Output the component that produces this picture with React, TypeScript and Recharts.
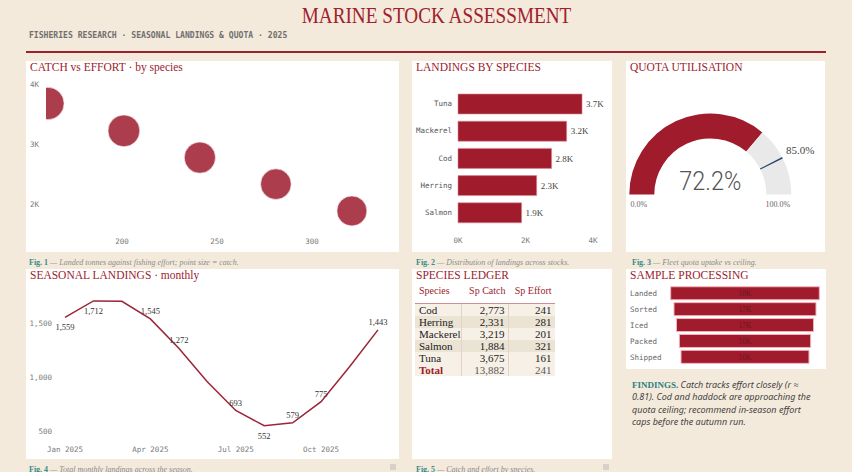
import React from 'react';
import {
  ScatterChart, Scatter, XAxis, YAxis, ZAxis,
  BarChart, Bar, LabelList, Cell,
  PieChart, Pie, LineChart, Line,
} from 'recharts';

// ---- data ----
const SPECIES = ['Cod', 'Herring', 'Mackerel', 'Salmon', 'Tuna'];
const SPECIES_CATCH = [2773, 2331, 3219, 1884, 3675];
const SPECIES_EFFORT = [241, 281, 201, 321, 161];

const MONTHS = ['Jan 2025', 'Feb 2025', 'Mar 2025', 'Apr 2025', 'May 2025', 'Jun 2025',
  'Jul 2025', 'Aug 2025', 'Sep 2025', 'Oct 2025', 'Nov 2025', 'Dec 2025'];
const MONTHLY_LANDINGS = [1559, 1712, 1709, 1545, 1272, 960, 693, 552, 579, 775, 1100, 1443];

const QUOTA_USED = 72.2;
const QUOTA_CEILING = 85.0;

const STAGES = ['Landed', 'Sorted', 'Iced', 'Packed', 'Shipped'];
const STAGE_COUNTS = [18000, 17200, 16600, 15900, 15500];

const SCATTER_X_TICKS = [200, 250, 300];
const SCATTER_Y_TICKS = [2000, 3000, 4000];
const BAR_TICKS = [0, 2000, 4000];
const LINE_Y_TICKS = [500, 1000, 1500];

// label placement for the monthly line (above / below / hidden)
const LINE_LABEL_PLACE = ['below', 'below', 'none', 'above', 'above', 'none',
  'above', 'below', 'above', 'above', 'none', 'above'];

// ---- styling ----
const BG = '#f4eadb';
const RED = '#a01b2c';
const TITLE_RED = '#9b1c2e';
const LINE_RED = '#9c2436';
const NAVY = '#2c4a6e';
const TEAL = '#3a8a8a';
const SERIF = '"Liberation Serif", "DejaVu Serif", serif';
const MONO = '"DejaVu Sans Mono", "Liberation Mono", monospace';
const SANS = '"Noto Sans", "Open Sans", sans-serif';

const tickStyle = { fontSize: 7.5, fontFamily: MONO, fill: '#7a7a7a' };
const kFmt = (v: number) => `${v / 1000}K`;
const num = (v: number) => v.toLocaleString('en-US');

const scatterData = SPECIES.map((s, i) => ({ species: s, effort: SPECIES_EFFORT[i], catch: SPECIES_CATCH[i] }));
const barData = SPECIES.map((s, i) => ({ species: s, catch: SPECIES_CATCH[i] }))
  .sort((a, b) => b.catch - a.catch);
const lineData = MONTHS.map((m, i) => ({ month: m, landings: MONTHLY_LANDINGS[i] }));
const gaugeData = [{ v: QUOTA_USED }, { v: 100 - QUOTA_USED }];
const markerData = [{ v: QUOTA_CEILING - 0.3 }, { v: 0.6 }, { v: 100 - QUOTA_CEILING - 0.3 }];
const stageMax = Math.max(...STAGE_COUNTS);
const funnelData = STAGES.map((s, i) => ({ stage: s, pad: (stageMax - STAGE_COUNTS[i]) / 2, count: STAGE_COUNTS[i] }));
const totalCatch = SPECIES_CATCH.reduce((a, b) => a + b, 0);
const meanEffort = Math.round(SPECIES_EFFORT.reduce((a, b) => a + b, 0) / SPECIES_EFFORT.length);

type PanelProps = { x: number; y: number; w: number; h: number; title: string; children?: React.ReactNode };
const Panel = ({ x, y, w, h, title, children }: PanelProps) => (
  <div style={{ position: 'absolute', left: x, top: y, width: w, height: h, background: '#fff' }}>
    {children}
    <div style={{ position: 'absolute', left: 4, top: 0, fontFamily: SERIF, fontSize: 11.5, lineHeight: '12px', color: TITLE_RED, whiteSpace: 'nowrap' }}>{title}</div>
  </div>
);

const Caption = ({ x, y, n, text }: { x: number; y: number; n: number; text: string }) => (
  <div style={{ position: 'absolute', left: x, top: y, fontFamily: SERIF, fontSize: 8, lineHeight: '12px', whiteSpace: 'nowrap' }}>
    <span style={{ color: TEAL, fontWeight: 700 }}>Fig. {n}</span>
    <span style={{ color: '#8a8a8a', fontStyle: 'italic' }}> — {text}</span>
  </div>
);

const lineLabel = (p: any) => {
  const place = LINE_LABEL_PLACE[p.index];
  if (place === 'none') return <g key={`ll-${p.index}`} />;
  const x = p.x ?? p.viewBox?.x;
  const y = p.y ?? p.viewBox?.y;
  return (
    <text key={`ll-${p.index}`} x={x} y={y + (place === 'above' ? -5 : 13)} textAnchor="middle"
      fontFamily={SERIF} fontSize={8.5} fill="#333">{num(p.value)}</text>
  );
};

const gaugeLabel = (p: any) => {
  if (p.index !== 0) return <g key="gl" />;
  const mid = (p.innerRadius + p.outerRadius) / 2;
  return (
    <g key="gl">
      <text x={p.cx} y={p.cy - 4.5} textAnchor="middle" fontFamily="Roboto, sans-serif" fontWeight={300}
        fontSize={26} fill="#555" textLength={62} lengthAdjust="spacingAndGlyphs">{`${QUOTA_USED.toFixed(1)}%`}</text>
      <text x={p.cx - mid - 3} y={p.cy + 12.5} textAnchor="middle" fontFamily={SERIF} fontSize={8} fill="#666">0.0%</text>
      <text x={p.cx + mid - 1} y={p.cy + 12.5} textAnchor="middle" fontFamily={SERIF} fontSize={8} fill="#666">100.0%</text>
    </g>
  );
};

const markerLabel = (p: any) => {
  if (p.index !== 1) return <g key={`ml-${p.index}`} />;
  const a = (p.midAngle * Math.PI) / 180;
  const r = p.outerRadius + 4;
  return (
    <text key="ml" x={p.cx + r * Math.cos(a)} y={p.cy - r * Math.sin(a) - 4} dominantBaseline="middle"
      textAnchor="start" fontFamily={SERIF} fontSize={11} fill="#444">{`${QUOTA_CEILING.toFixed(1)}%`}</text>
  );
};

const stageTick = (p: any) => (
  <text x={4} y={p.y} dy="0.355em" textAnchor="start" fontFamily={MONO} fontSize={7.5} fill="#666">{p.payload.value}</text>
);

const cell = (w: number, align: 'left' | 'right', extra: React.CSSProperties = {}): React.CSSProperties => ({
  width: w, boxSizing: 'border-box', textAlign: align,
  paddingLeft: align === 'left' ? 4 : 0, paddingRight: align === 'right' ? 3.5 : 0, ...extra,
});

const Ledger = () => {
  const rows = SPECIES.map((s, i) => ({ s, c: SPECIES_CATCH[i], e: SPECIES_EFFORT[i] }));
  const sep = '1px solid #e6d3c8';
  return (
    <div style={{ position: 'absolute', left: 3, top: 12, width: 140, fontFamily: SERIF }}>
      <div style={{ display: 'flex', height: 23, lineHeight: '20px', fontSize: 10, color: TITLE_RED, borderBottom: '1px solid #c98f96', boxSizing: 'border-box' }}>
        <div style={cell(47, 'left')}>Species</div>
        <div style={cell(47, 'right')}>Sp Catch</div>
        <div style={cell(46, 'right')}>Sp Effort</div>
      </div>
      {rows.map((r, i) => (
        <div key={r.s} style={{ display: 'flex', height: 12, lineHeight: '12px', fontSize: 11, color: '#222', background: i % 2 === 1 ? '#ebe3d4' : '#f6f0e6' }}>
          <div style={cell(47, 'left', { borderRight: sep })}>{r.s}</div>
          <div style={cell(47, 'right', { borderRight: sep })}>{num(r.c)}</div>
          <div style={cell(46, 'right')}>{r.e}</div>
        </div>
      ))}
      <div style={{ display: 'flex', height: 12, lineHeight: '12px', fontSize: 11, background: '#f6f0e6' }}>
        <div style={cell(47, 'left', { borderRight: sep, color: RED, fontWeight: 700 })}>Total</div>
        <div style={cell(47, 'right', { borderRight: sep, color: '#5a5a5a' })}>{num(totalCatch)}</div>
        <div style={cell(46, 'right', { color: '#5a5a5a' })}>{meanEffort}</div>
      </div>
    </div>
  );
};

export default function App() {
  return (
    <div style={{ position: 'absolute', left: 0, top: 0, width: 852, height: 472, overflow: 'hidden', background: BG, fontFamily: SERIF }}>
      {/* header */}
      <div style={{ position: 'absolute', left: 0, top: 3, width: 873, textAlign: 'center', fontFamily: SERIF, fontSize: 24, lineHeight: '24px', color: '#a0202f', transform: 'scaleX(0.8)', whiteSpace: 'nowrap' }}>
        MARINE STOCK ASSESSMENT
      </div>
      <div style={{ position: 'absolute', left: 29, top: 30, fontFamily: MONO, fontWeight: 700, fontSize: 8.1, lineHeight: '10px', color: '#707070', whiteSpace: 'nowrap' }}>
        FISHERIES RESEARCH · SEASONAL LANDINGS &amp; QUOTA · 2025
      </div>
      <div style={{ position: 'absolute', left: 26, top: 51, width: 800, height: 2, background: '#9b2030' }} />

      {/* catch vs effort */}
      <Panel x={26} y={61} w={373} h={191} title="CATCH vs EFFORT · by species">
        <ScatterChart width={373} height={191} margin={{ top: 23, right: 11, bottom: 0, left: 0 }}>
          <XAxis type="number" dataKey="effort" domain={[160, 340]} ticks={SCATTER_X_TICKS} allowDataOverflow
            axisLine={false} tickLine={false} tickSize={0} tickMargin={5} height={18} tick={tickStyle} />
          <YAxis type="number" dataKey="catch" domain={[1500, 4000]} ticks={SCATTER_Y_TICKS} tickFormatter={kFmt}
            axisLine={false} tickLine={false} tickSize={0} tickMargin={7} width={20} tick={tickStyle} />
          <ZAxis type="number" dataKey="catch" domain={[0, 3675]} range={[584, 824]} />
          <Scatter data={scatterData} fill="#9e1b2e" fillOpacity={0.85} stroke="#ffffff" strokeOpacity={0.6} strokeWidth={1} isAnimationActive={false} />
        </ScatterChart>
      </Panel>
      <Caption x={29} y={257} n={1} text="Landed tonnes against fishing effort; point size = catch." />

      {/* landings by species */}
      <Panel x={412} y={61} w={200} h={191} title="LANDINGS BY SPECIES">
        <BarChart width={200} height={191} layout="vertical" data={barData} barSize={20}
          margin={{ top: 29, right: 19, bottom: 0, left: 0 }}>
          <XAxis type="number" domain={[0, 4000]} ticks={BAR_TICKS} tickFormatter={kFmt}
            axisLine={false} tickLine={false} tickSize={0} tickMargin={12} height={26} tick={tickStyle} />
          <YAxis type="category" dataKey="species" axisLine={false} tickLine={false} tickSize={0} tickMargin={6}
            width={46} interval={0} tick={{ ...tickStyle, fill: '#555' }} />
          <Bar dataKey="catch" fill={RED} stroke="#d98a94" strokeWidth={0.6} isAnimationActive={false}>
            <LabelList dataKey="catch" position="right" offset={4} formatter={(v: any) => `${(Number(v) / 1000).toFixed(1)}K`}
              style={{ fontFamily: SERIF, fontSize: 9, fill: '#444' }} />
          </Bar>
        </BarChart>
      </Panel>
      <Caption x={416} y={257} n={2} text="Distribution of landings across stocks." />

      {/* quota gauge */}
      <Panel x={626} y={61} w={199} h={191} title="QUOTA UTILISATION">
        <PieChart width={199} height={191} margin={{ top: 0, right: 0, bottom: 0, left: 0 }}>
          <Pie data={gaugeData} dataKey="v" cx={84.3} cy={133.5} innerRadius={56} outerRadius={81}
            startAngle={180} endAngle={0} stroke="none" label={gaugeLabel} labelLine={false} isAnimationActive={false}>
            <Cell fill={RED} />
            <Cell fill="#e9e9e9" />
          </Pie>
          <Pie data={markerData} dataKey="v" cx={84.3} cy={133.5} innerRadius={56} outerRadius={81}
            startAngle={180} endAngle={0} stroke="none" label={markerLabel} labelLine={false} isAnimationActive={false}>
            <Cell fill="transparent" />
            <Cell fill={NAVY} />
            <Cell fill="transparent" />
          </Pie>
        </PieChart>
      </Panel>
      <Caption x={632} y={257} n={3} text="Fleet quota uptake vs ceiling." />

      {/* seasonal landings */}
      <Panel x={26} y={269} w={373} h={190} title="SEASONAL LANDINGS · monthly">
        <LineChart width={373} height={190} data={lineData} margin={{ top: 22.5, right: 21, bottom: 0, left: 0 }}>
          <XAxis dataKey="month" interval={2} axisLine={false} tickLine={false} tickSize={0} tickMargin={5}
            height={17} tick={tickStyle} />
          <YAxis type="number" domain={[400, 1800]} ticks={LINE_Y_TICKS} tickFormatter={num}
            axisLine={false} tickLine={false} tickSize={0} tickMargin={13} width={39} tick={tickStyle} />
          <Line type="linear" dataKey="landings" stroke={LINE_RED} strokeWidth={1.5} dot={false}
            label={lineLabel} isAnimationActive={false} />
        </LineChart>
      </Panel>
      <Caption x={29} y={464} n={4} text="Total monthly landings across the season." />
      <div style={{ position: 'absolute', left: 390, top: 464, width: 6, height: 6, background: '#d6d1c9' }} />

      {/* ledger */}
      <Panel x={412} y={269} w={200} h={190} title="SPECIES LEDGER">
        <Ledger />
      </Panel>
      <Caption x={416} y={464} n={5} text="Catch and effort by species." />
      <div style={{ position: 'absolute', left: 603, top: 464, width: 6, height: 6, background: '#d6d1c9' }} />

      {/* sample processing */}
      <Panel x={626} y={269} w={200} h={100} title="SAMPLE PROCESSING">
        <BarChart width={200} height={100} layout="vertical" data={funnelData} barSize={13}
          margin={{ top: 16.75, right: 6.7, bottom: 3.75, left: 0 }}>
          <XAxis type="number" domain={[0, stageMax]} hide />
          <YAxis type="category" dataKey="stage" axisLine={false} tickLine={false} tickSize={0} width={44.7}
            interval={0} tick={stageTick} />
          <Bar dataKey="pad" stackId="f" fill="transparent" isAnimationActive={false} />
          <Bar dataKey="count" stackId="f" fill={RED} stroke="#f0b3ba" strokeWidth={1} isAnimationActive={false}>
            <LabelList dataKey="count" position="center" formatter={(v: any) => `${Math.round(Number(v) / 1000)}K`}
              style={{ fontFamily: SERIF, fontSize: 7.5, fill: '#6e1621' }} />
          </Bar>
        </BarChart>
      </Panel>

      {/* findings */}
      <div style={{ position: 'absolute', left: 632, top: 379, width: 200, fontSize: 9, lineHeight: '11.3px', color: '#444', whiteSpace: 'nowrap' }}>
        <span style={{ fontFamily: SERIF, fontWeight: 700, color: '#2f7f80' }}>FINDINGS.</span>
        <span style={{ fontFamily: SANS, fontStyle: 'italic' }}>{'  '}Catch tracks effort closely (r ≈</span><br />
        <span style={{ fontFamily: SANS, fontStyle: 'italic' }}>0.81). Cod and haddock are approaching the</span><br />
        <span style={{ fontFamily: SANS, fontStyle: 'italic' }}>quota ceiling; recommend in-season effort</span><br />
        <span style={{ fontFamily: SANS, fontStyle: 'italic' }}>caps before the autumn run.</span>
      </div>
    </div>
  );
}
